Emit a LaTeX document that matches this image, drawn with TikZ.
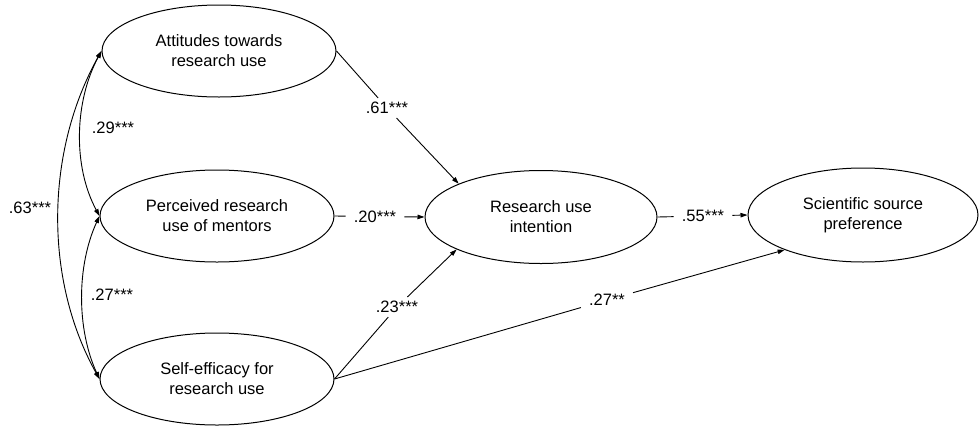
\documentclass[tikz,border=0pt]{standalone}
\usepackage{fontspec}
\setmainfont{Liberation Sans}
\usetikzlibrary{shapes.geometric,arrows.meta}
\begin{document}
\begin{tikzpicture}[x=1pt,y=-1pt,
  every node/.style={font=\fontsize{16.5}{20}\selectfont},
  lat/.style={ellipse, draw, line width=1pt, inner sep=0pt, minimum width=234pt, minimum height=92pt, align=center},
  coef/.style={inner xsep=8pt, inner ysep=4pt},
  seg/.style={line width=0.9pt},
  eff/.style={line width=0.9pt, -{Triangle[length=7pt,width=4.5pt]}},
  cov/.style={line width=0.9pt, {Triangle[length=7pt,width=4.5pt]}-{Triangle[length=7pt,width=4.5pt]}}
]
\useasboundingbox (0,0) rectangle (979,426);

% latent variables
\node[lat] (A) at (219,51) {Attitudes towards\\research use};
\node[lat] (P) at (217,216) {Perceived research\\use of mentors};
\node[lat] (S) at (217,379) {Self-efficacy for\\research use};
\node[lat, minimum width=232pt, minimum height=93pt] (R) at (541,217) {Research use\\intention};
\node[lat, minimum width=230pt, minimum height=94pt] (Sci) at (863,215) {Scientific source\\preference};

% path coefficients
\node[coef] (c61) at (387,108) {.61***};
\node[coef] (c20) at (375,216.5) {.20***};
\node[coef] (c55) at (703,216) {.55***};
\node[coef] (c23) at (397,307) {.23***};
\node[coef] (c27b) at (607,300) {.27**};

\draw[seg] (A.east) -- (c61);
\draw[eff] (c61) -- (R.158);
\draw[seg] (P.east) -- (c20);
\draw[eff] (c20) -- (R.west);
\draw[seg] (R.east) -- (c55);
\draw[eff] (c55) -- (Sci.west);
\draw[seg] (S.east) -- (c23);
\draw[eff] (c23) -- (R.201);
\draw[seg] (S.east) -- (c27b);
\draw[eff] (c27b) -- (Sci.204);

% correlations
\draw[cov] (A.west) .. controls +(-56,100) and +(-56,-100) .. (S.west);
\draw[cov] (A.west) .. controls +(-27,50) and +(-27,-50) .. (P.west);
\draw[cov] (P.west) .. controls +(-23,50) and +(-23,-50) .. (S.west);

\node (c29) at (113,128) {.29***};
\node (c27a) at (112,295) {.27***};
\node (c63) at (30,208) {.63***};
\end{tikzpicture}
\end{document}
